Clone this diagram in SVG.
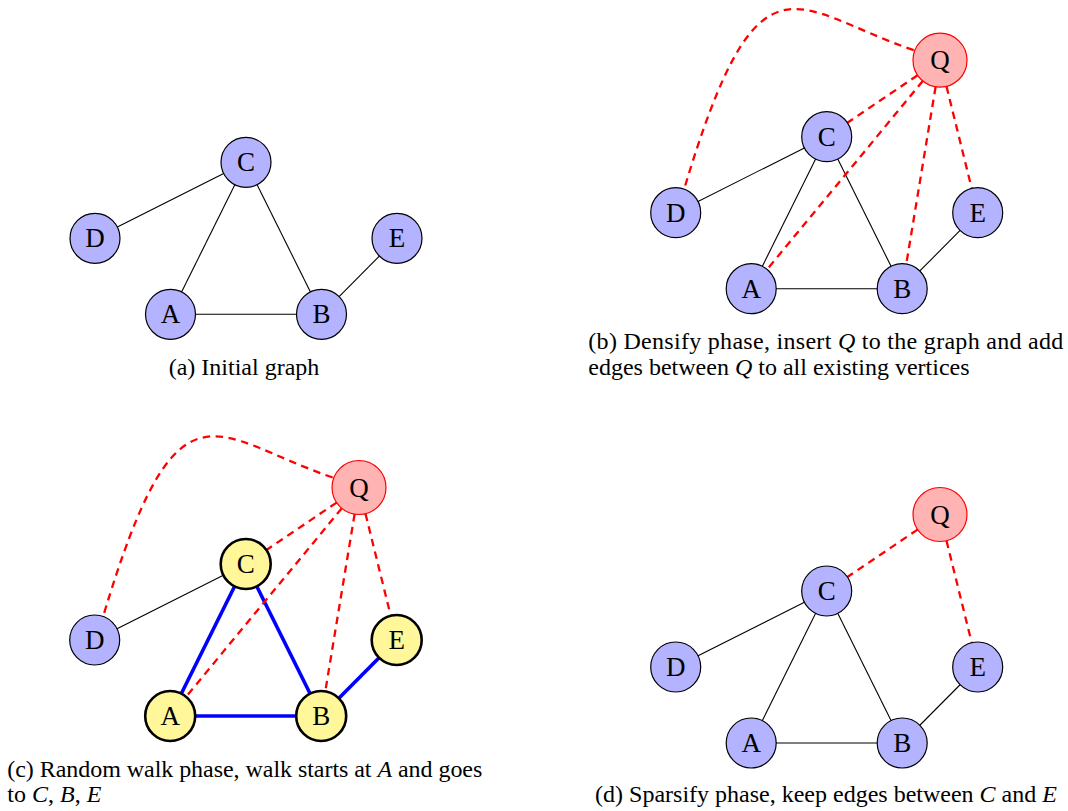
<svg xmlns="http://www.w3.org/2000/svg" width="1068" height="811" viewBox="0 0 1068 811">
  <style>
    .edge { stroke: #000; stroke-width: 1.1; fill: none; }
    .walk { stroke: #0000ff; stroke-width: 3.6; fill: none; }
    .qedge { stroke: #ff0000; stroke-width: 2.3; stroke-dasharray: 7.5 5.5; fill: none; }
    .node circle { fill: #b3b3ff; stroke: #000; stroke-width: 1.2; }
    .visited circle { fill: #fff799; stroke: #000; stroke-width: 2.6; }
    .query circle { fill: #ffb3b3; stroke: #ff0000; stroke-width: 1.2; }
    .lbl { font-family: "Liberation Serif", "Times New Roman", serif; font-size: 27px; text-anchor: middle; fill: #000; }
    .cap { font-family: "Liberation Serif", "Times New Roman", serif; font-size: 24px; fill: #000; }
    .m { font-style: italic; }
  </style>
  <defs>
    <!-- shared red links from Q; coordinates relative to vertex C -->
    <path id="qd" d="M87,-86.5 C-33,-127.3 -67.6,-197.5 -142.6,52.5"/>
    <line id="qc" x1="90.9" y1="-61.4" x2="20.7" y2="-14"/>
    <line id="qa" x1="96.1" y1="-55.7" x2="-59.6" y2="132.7"/>
    <line id="qb" x1="108.9" y1="-49.9" x2="79.6" y2="127.3"/>
    <line id="qe" x1="119.8" y1="-50.3" x2="145" y2="51.7"/>
  </defs>

  <!-- (a) initial graph -->
  <g id="panel-a" transform="translate(246,162.3)">
    <g id="a-edges">
      <line class="edge" x1="-151" y1="76" x2="0" y2="0"/>
      <line class="edge" x1="0" y1="0" x2="-75.5" y2="152"/>
      <line class="edge" x1="0" y1="0" x2="75.5" y2="152"/>
      <line class="edge" x1="-75.5" y1="152" x2="75.5" y2="152"/>
      <line class="edge" x1="75.5" y1="152" x2="151" y2="76"/>
    </g>
    <g id="a-C" class="node"><circle cx="0" cy="0" r="25"/><text class="lbl" x="0" y="9">C</text></g>
    <g id="a-D" class="node"><circle cx="-151" cy="76" r="25"/><text class="lbl" x="-151" y="85">D</text></g>
    <g id="a-E" class="node"><circle cx="151" cy="76" r="25"/><text class="lbl" x="151" y="85">E</text></g>
    <g id="a-A" class="node"><circle cx="-75.5" cy="152" r="25"/><text class="lbl" x="-75.5" y="161">A</text></g>
    <g id="a-B" class="node"><circle cx="75.5" cy="152" r="25"/><text class="lbl" x="75.5" y="161">B</text></g>
  </g>
  <text class="cap" x="244" y="374.5" text-anchor="middle">(a) Initial graph</text>

  <!-- (b) densify -->
  <g id="panel-b" transform="translate(826.7,136.7)">
    <g id="b-edges">
      <line class="edge" x1="-151" y1="76" x2="0" y2="0"/>
      <line class="edge" x1="0" y1="0" x2="-75.5" y2="152"/>
      <line class="edge" x1="0" y1="0" x2="75.5" y2="152"/>
      <line class="edge" x1="-75.5" y1="152" x2="75.5" y2="152"/>
      <line class="edge" x1="75.5" y1="152" x2="151" y2="76"/>
      <use href="#qd" class="qedge"/>
      <use href="#qc" class="qedge"/>
      <use href="#qa" class="qedge"/>
      <use href="#qb" class="qedge"/>
      <use href="#qe" class="qedge"/>
    </g>
    <g id="b-C" class="node"><circle cx="0" cy="0" r="25"/><text class="lbl" x="0" y="9">C</text></g>
    <g id="b-D" class="node"><circle cx="-151" cy="76" r="25"/><text class="lbl" x="-151" y="85">D</text></g>
    <g id="b-E" class="node"><circle cx="151" cy="76" r="25"/><text class="lbl" x="151" y="85">E</text></g>
    <g id="b-A" class="node"><circle cx="-75.5" cy="152" r="25"/><text class="lbl" x="-75.5" y="161">A</text></g>
    <g id="b-B" class="node"><circle cx="75.5" cy="152" r="25"/><text class="lbl" x="75.5" y="161">B</text></g>
    <g id="b-Q" class="query"><circle cx="113.3" cy="-76.5" r="27"/><text class="lbl" x="113.3" y="-67.5">Q</text></g>
  </g>
  <text class="cap" x="588.3" y="349.3" textLength="475" lengthAdjust="spacing">(b) Densify phase, insert <tspan class="m">Q</tspan> to the graph and add</text>
  <text class="cap" x="588.3" y="374.5">edges between <tspan class="m">Q</tspan> to all existing vertices</text>

  <!-- (c) random walk -->
  <g id="panel-c" transform="translate(245.7,564)">
    <g id="c-edges">
      <line class="edge" x1="-151" y1="76" x2="0" y2="0"/>
      <line class="walk" x1="0" y1="0" x2="-75.5" y2="152"/>
      <line class="walk" x1="0" y1="0" x2="75.5" y2="152"/>
      <line class="walk" x1="-75.5" y1="152" x2="75.5" y2="152"/>
      <line class="walk" x1="75.5" y1="152" x2="151" y2="76"/>
      <use href="#qd" class="qedge"/>
      <use href="#qc" class="qedge"/>
      <use href="#qa" class="qedge"/>
      <use href="#qb" class="qedge"/>
      <use href="#qe" class="qedge"/>
    </g>
    <g id="c-C" class="visited"><circle cx="0" cy="0" r="25"/><text class="lbl" x="0" y="9">C</text></g>
    <g id="c-D" class="node"><circle cx="-151" cy="76" r="25"/><text class="lbl" x="-151" y="85">D</text></g>
    <g id="c-E" class="visited"><circle cx="151" cy="76" r="25"/><text class="lbl" x="151" y="85">E</text></g>
    <g id="c-A" class="visited"><circle cx="-75.5" cy="152" r="25"/><text class="lbl" x="-75.5" y="161">A</text></g>
    <g id="c-B" class="visited"><circle cx="75.5" cy="152" r="25"/><text class="lbl" x="75.5" y="161">B</text></g>
    <g id="c-Q" class="query"><circle cx="113.3" cy="-76.5" r="27"/><text class="lbl" x="113.3" y="-67.5">Q</text></g>
  </g>
  <text class="cap" x="7.3" y="776.7" textLength="475" lengthAdjust="spacing">(c) Random walk phase, walk starts at <tspan class="m">A</tspan> and goes</text>
  <text class="cap" x="7.3" y="801.7">to <tspan class="m">C</tspan>, <tspan class="m">B</tspan>, <tspan class="m">E</tspan></text>

  <!-- (d) sparsify -->
  <g id="panel-d" transform="translate(826.7,591)">
    <g id="d-edges">
      <line class="edge" x1="-151" y1="76" x2="0" y2="0"/>
      <line class="edge" x1="0" y1="0" x2="-75.5" y2="152"/>
      <line class="edge" x1="0" y1="0" x2="75.5" y2="152"/>
      <line class="edge" x1="-75.5" y1="152" x2="75.5" y2="152"/>
      <line class="edge" x1="75.5" y1="152" x2="151" y2="76"/>
      <use href="#qc" class="qedge"/>
      <use href="#qe" class="qedge"/>
    </g>
    <g id="d-C" class="node"><circle cx="0" cy="0" r="25"/><text class="lbl" x="0" y="9">C</text></g>
    <g id="d-D" class="node"><circle cx="-151" cy="76" r="25"/><text class="lbl" x="-151" y="85">D</text></g>
    <g id="d-E" class="node"><circle cx="151" cy="76" r="25"/><text class="lbl" x="151" y="85">E</text></g>
    <g id="d-A" class="node"><circle cx="-75.5" cy="152" r="25"/><text class="lbl" x="-75.5" y="161">A</text></g>
    <g id="d-B" class="node"><circle cx="75.5" cy="152" r="25"/><text class="lbl" x="75.5" y="161">B</text></g>
    <g id="d-Q" class="query"><circle cx="113.3" cy="-76.5" r="27"/><text class="lbl" x="113.3" y="-67.5">Q</text></g>
  </g>
  <text class="cap" x="826" y="801.7" text-anchor="middle">(d) Sparsify phase, keep edges between <tspan class="m">C</tspan> and <tspan class="m">E</tspan></text>
</svg>
